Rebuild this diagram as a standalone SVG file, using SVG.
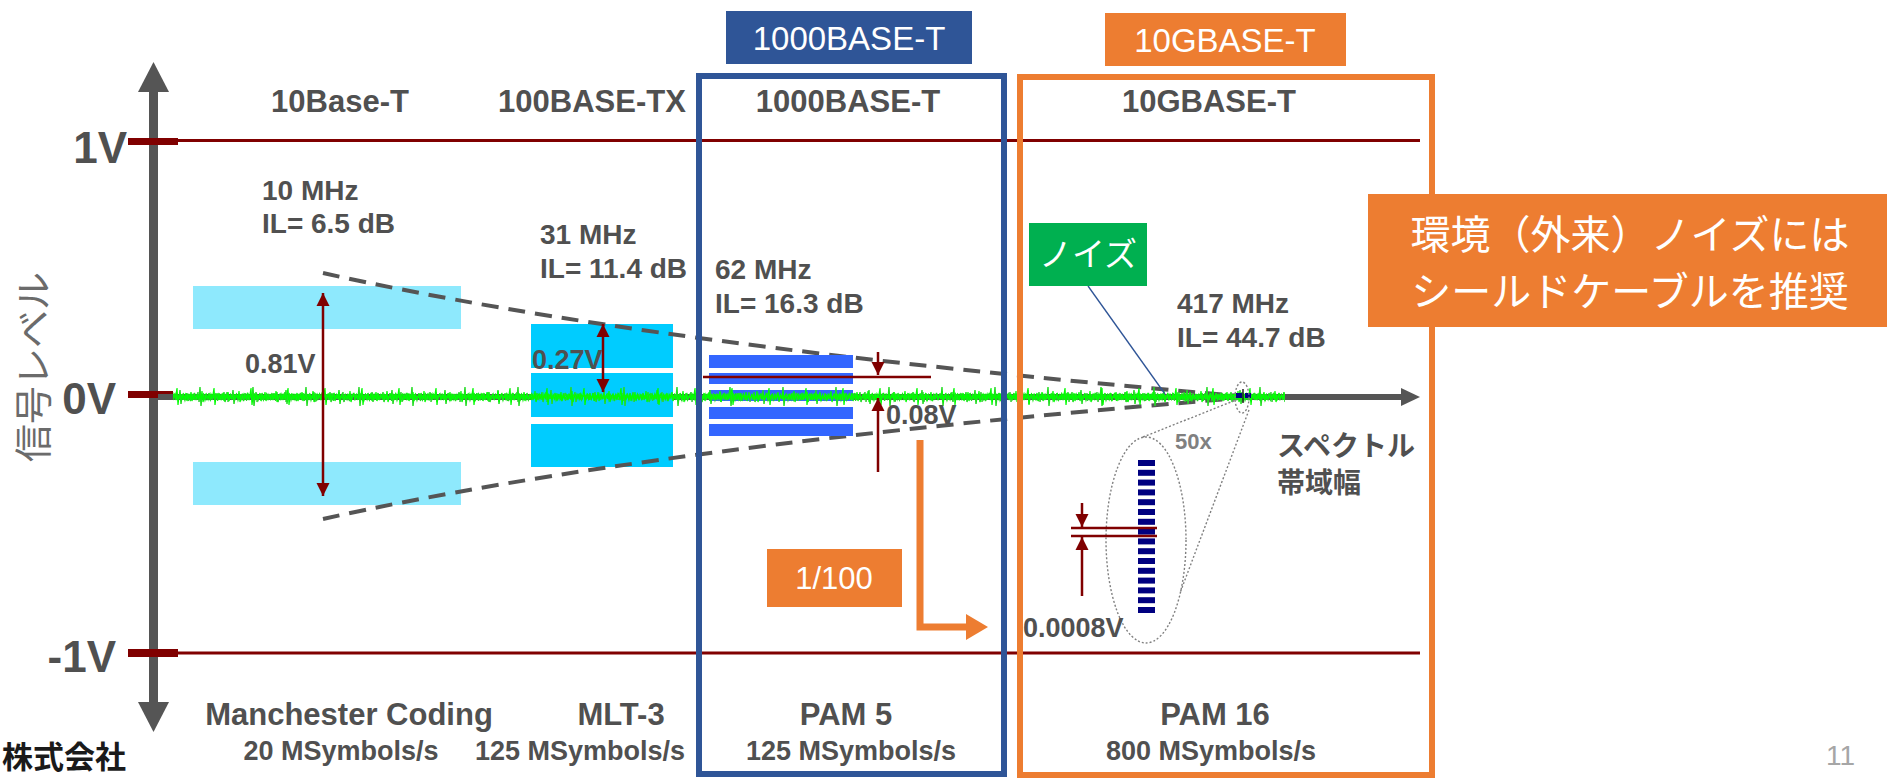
<svg xmlns="http://www.w3.org/2000/svg" width="1887" height="778" viewBox="0 0 1887 778">
<style>
.lbl{font-family:"Liberation Sans",Arial,sans-serif;font-weight:bold;fill:#505050}
.t31{font-size:31px}
.t28{font-size:28px}
.t27{font-size:27px}
.ax{font-size:44px}
.jp{font-family:"Noto Sans CJK JP",sans-serif}
.wht{fill:#ffffff}
.red{stroke:#800000;stroke-width:2.5;fill:none}
.dash{stroke:#555555;stroke-width:4;fill:none;stroke-dasharray:17 10}
.dot{stroke:#808080;stroke-width:1.4;fill:none;stroke-dasharray:2 2}
</style>
<defs>
<marker id="ah" viewBox="0 0 10 10" refX="10" refY="5" markerWidth="13" markerHeight="14" markerUnits="userSpaceOnUse" orient="auto-start-reverse">
<path d="M0,0 L10,5 L0,10 z" fill="#800000"/>
</marker>
<pattern id="nz1" x="0" y="385" width="53" height="24" patternUnits="userSpaceOnUse">
<path d="M0,12 L1.5,9 L3,15 L4,10 L5.5,14 L7,8 L8,15 L9.5,10 L11,13 L12,7 L13,17 L14.5,11 L16,9 L17,15 L18.5,10 L20,14 L21,5 L22,19 L23,11 L24.5,9 L26,15 L27.5,10 L29,14 L30,9 L31.5,16 L33,10 L34,13 L35.5,8 L37,15 L38.5,10 L40,14 L41,2 L42,21 L43,11 L44.5,9 L46,15 L47.5,10 L49,14 L50,8 L51.5,15 L53,12" stroke="#22dd22" stroke-width="1.4" fill="none"/>
</pattern>
<pattern id="nz2" x="11" y="385" width="37" height="24" patternUnits="userSpaceOnUse">
<path d="M0,12 L1,9 L2,15 L3.5,10 L5,14 L6,6 L7,17 L8.5,11 L10,9 L11,14 L12.5,10 L14,15 L15,9 L16.5,13 L18,3 L19,20 L20,11 L21.5,9 L23,15 L24,10 L25.5,14 L27,8 L28,16 L29.5,10 L31,13 L32,7 L33,16 L34.5,10 L36,14 L37,12" stroke="#00ff00" stroke-width="1.2" fill="none"/>
</pattern>
<pattern id="nz3" x="5" y="385" width="29" height="24" patternUnits="userSpaceOnUse">
<path d="M0,12 L1,10 L2,14 L3,9 L4.5,15 L6,11 L7,13 L8,8 L9.5,16 L11,10 L12,14 L13.5,9 L15,15 L16,11 L17.5,13 L19,7 L20,17 L21.5,10 L23,14 L24,9 L25.5,15 L27,10 L29,12" stroke="#33cc33" stroke-width="1" fill="none"/>
</pattern>
</defs>

<g id="axes">
<line x1="178" y1="140.5" x2="1420" y2="140.5" stroke="#800000" stroke-width="3"/>
<line x1="178" y1="653" x2="1420" y2="653" stroke="#800000" stroke-width="3"/>
<rect x="149" y="90" width="9" height="614" fill="#555555"/>
<polygon points="153.5,62 169,92 138,92" fill="#555555"/>
<polygon points="153.5,732 169,702 138,702" fill="#555555"/>
<rect x="128" y="138" width="50" height="7" fill="#800000"/>
<rect x="128" y="391" width="45" height="7" fill="#800000"/>
<rect x="128" y="649" width="50" height="8" fill="#800000"/>
<line x1="158" y1="397" x2="1403" y2="397" stroke="#555555" stroke-width="6"/>
<polygon points="1401,388 1420,397 1401,406" fill="#555555"/>
<text class="lbl ax" x="127" y="163" text-anchor="end">1V</text>
<text class="lbl ax" x="116" y="414" text-anchor="end">0V</text>
<text class="lbl ax" x="116" y="672" text-anchor="end">-1V</text>
<text class="jp" transform="translate(47,367) rotate(-90)" text-anchor="middle" font-size="38" fill="#6b6b6b">信号レベル</text>
</g>

<g id="signal-10base">
<rect x="193" y="286" width="268" height="43" fill="#8ee9fd"/>
<rect x="193" y="462" width="268" height="43" fill="#8ee9fd"/>
</g>
<g id="signal-100base">
<rect x="531" y="324" width="142" height="44" fill="#00ccff"/>
<rect x="531" y="373" width="142" height="44" fill="#00ccff"/>
<rect x="531" y="424" width="142" height="43" fill="#00ccff"/>
</g>

<g id="connectors">
<path class="dash" d="M323,273 Q650,346 1240,396"/>
<path class="dash" d="M323,519 Q650,446 1240,398"/>
</g>

<g id="signal-1000base">
<rect x="709" y="355" width="144" height="13" fill="#3366ff"/>
<rect x="709" y="373" width="144" height="11" fill="#3366ff"/>
<rect x="709" y="390" width="144" height="11" fill="#3366ff"/>
<rect x="709" y="407" width="144" height="12" fill="#3366ff"/>
<rect x="709" y="424" width="144" height="12" fill="#3366ff"/>
</g>

<g id="noise">
<rect x="173" y="385" width="1112" height="24" fill="url(#nz3)"/>
<rect x="173" y="385" width="1112" height="24" fill="url(#nz1)"/>
<rect x="173" y="385" width="1112" height="24" fill="url(#nz2)"/>
<rect x="1236" y="393" width="6" height="5" fill="#000080"/>
<rect x="1245" y="393" width="6" height="5" fill="#000080"/>
<line x1="1243" y1="389" x2="1243" y2="403" stroke="#222" stroke-width="1.5"/>
</g>

<g id="amplitudes">
<line class="red" x1="323" y1="293" x2="323" y2="496" marker-start="url(#ah)" marker-end="url(#ah)"/>
<line class="red" x1="603" y1="324" x2="603" y2="392" marker-start="url(#ah)" marker-end="url(#ah)"/>
<line class="red" x1="703" y1="377" x2="931" y2="377" stroke-width="3"/>
<line class="red" x1="878" y1="352" x2="878" y2="375" marker-end="url(#ah)"/>
<line class="red" x1="878" y1="472" x2="878" y2="398" marker-end="url(#ah)"/>
<text class="lbl t27" x="245" y="373">0.81V</text>
<text class="lbl t27" x="532" y="369">0.27V</text>
<text class="lbl t27" x="886" y="424">0.08V</text>
</g>

<g id="zoom-detail">
<ellipse class="dot" cx="1242" cy="397.5" rx="7" ry="15.5"/>
<ellipse class="dot" cx="1146" cy="540" rx="40" ry="103"/>
<line class="dot" x1="1143" y1="437" x2="1236" y2="400"/>
<line class="dot" x1="1249" y1="410" x2="1180" y2="593"/>
<g fill="#000080">
<rect x="1138" y="460" width="17" height="6"/>
<rect x="1138" y="469.8" width="17" height="6"/>
<rect x="1138" y="479.6" width="17" height="6"/>
<rect x="1138" y="489.4" width="17" height="6"/>
<rect x="1138" y="499.2" width="17" height="6"/>
<rect x="1138" y="509" width="17" height="6"/>
<rect x="1138" y="518.8" width="17" height="6"/>
<rect x="1138" y="528.6" width="17" height="6"/>
<rect x="1138" y="538.4" width="17" height="6"/>
<rect x="1138" y="548.2" width="17" height="6"/>
<rect x="1138" y="558" width="17" height="6"/>
<rect x="1138" y="567.8" width="17" height="6"/>
<rect x="1138" y="577.6" width="17" height="6"/>
<rect x="1138" y="587.4" width="17" height="6"/>
<rect x="1138" y="597.2" width="17" height="6"/>
<rect x="1138" y="607" width="17" height="6"/>
</g>
<line class="red" x1="1071" y1="528" x2="1157" y2="528" stroke-width="3"/>
<line class="red" x1="1071" y1="536" x2="1157" y2="536" stroke-width="3"/>
<line class="red" x1="1082" y1="503" x2="1082" y2="527" marker-end="url(#ah)"/>
<line class="red" x1="1082" y1="596" x2="1082" y2="537" marker-end="url(#ah)"/>
<text class="lbl t27" x="1023" y="637">0.0008V</text>
<text class="lbl" x="1175" y="449" font-size="22" style="fill:#808080">50x</text>
</g>

<g id="col-10base">
<text class="lbl t31" x="340" y="112" text-anchor="middle">10Base-T</text>
<text class="lbl t28" x="262" y="200">10 MHz</text>
<text class="lbl t28" x="262" y="233">IL= 6.5 dB</text>
<text class="lbl t31" x="349" y="725" text-anchor="middle">Manchester Coding</text>
<text class="lbl t27" x="341" y="760" text-anchor="middle">20 MSymbols/s</text>
</g>

<g id="col-100base">
<text class="lbl t31" x="592" y="112" text-anchor="middle">100BASE-TX</text>
<text class="lbl t28" x="540" y="244">31 MHz</text>
<text class="lbl t28" x="540" y="278">IL= 11.4 dB</text>
<text class="lbl t31" x="621" y="725" text-anchor="middle">MLT-3</text>
<text class="lbl t27" x="580" y="760" text-anchor="middle">125 MSymbols/s</text>
</g>

<g id="col-1000base">
<rect x="699" y="76" width="305" height="698" fill="none" stroke="#2f5597" stroke-width="6"/>
<rect x="726" y="11" width="246" height="53" fill="#2f5597"/>
<text x="849" y="50" text-anchor="middle" font-family="Liberation Sans,Arial,sans-serif" font-size="33" fill="#ffffff">1000BASE-T</text>
<text class="lbl t31" x="848" y="112" text-anchor="middle">1000BASE-T</text>
<text class="lbl t28" x="715" y="279">62 MHz</text>
<text class="lbl t28" x="715" y="313">IL= 16.3 dB</text>
<text class="lbl t31" x="846" y="725" text-anchor="middle">PAM 5</text>
<text class="lbl t27" x="851" y="760" text-anchor="middle">125 MSymbols/s</text>
</g>

<g id="col-10gbase">
<rect x="1020" y="77" width="412" height="698" fill="none" stroke="#ed7d31" stroke-width="6"/>
<rect x="1105" y="13" width="241" height="53" fill="#ed7d31"/>
<text x="1225" y="52" text-anchor="middle" font-family="Liberation Sans,Arial,sans-serif" font-size="33" fill="#ffffff">10GBASE-T</text>
<text class="lbl t31" x="1209" y="112" text-anchor="middle">10GBASE-T</text>
<text class="lbl t28" x="1177" y="313">417 MHz</text>
<text class="lbl t28" x="1177" y="347">IL= 44.7 dB</text>
<text class="lbl t31" x="1215" y="725" text-anchor="middle">PAM 16</text>
<text class="lbl t27" x="1211" y="760" text-anchor="middle">800 MSymbols/s</text>
</g>

<g id="reduction-arrow">
<path d="M920,440 V627 H968" fill="none" stroke="#ed7d31" stroke-width="7"/>
<polygon points="966,614 988,627 966,640" fill="#ed7d31"/>
<rect x="767" y="549" width="135" height="58" fill="#ed7d31"/>
<text x="834" y="589" text-anchor="middle" font-family="Liberation Sans,Arial,sans-serif" font-size="31" fill="#ffffff">1/100</text>
</g>

<g id="noise-label">
<line x1="1088" y1="286" x2="1165" y2="394" stroke="#2f5597" stroke-width="1.3"/>
<rect x="1029" y="223" width="118" height="63" fill="#00b050"/>
<text class="jp wht" x="1088" y="266" text-anchor="middle" font-size="33">ノイズ</text>
</g>

<g id="axis-label-x">
<text class="lbl" x="1277" y="456" font-size="28" style="font-family:'Noto Sans CJK JP',sans-serif">スペクトル</text>
<text class="lbl" x="1277" y="493" font-size="28" style="font-family:'Noto Sans CJK JP',sans-serif">帯域幅</text>
</g>

<g id="callout">
<rect x="1368" y="194" width="519" height="133" fill="#ed7d31"/>
<text class="jp wht" x="1630" y="249" text-anchor="middle" font-size="40">環境（外来）ノイズには</text>
<text class="jp wht" x="1630" y="306" text-anchor="middle" font-size="40">シールドケーブルを推奨</text>
</g>

<g id="footer">
<text class="jp" x="2" y="768" font-size="31" font-weight="bold" fill="#1a1a1a">株式会社</text>
<text x="1855" y="765" text-anchor="end" font-family="Liberation Sans,Arial,sans-serif" font-size="28" fill="#a6a6a6">11</text>
</g>
</svg>
